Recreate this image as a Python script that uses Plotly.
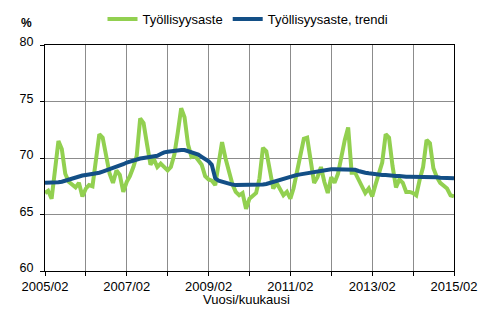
import pandas as pd
import plotly.graph_objects as go

# Monthly observations, 2005/02 - 2015/02
start_month = "2005-02-01"
n_months = 121

employment_rate = [
    66.9, 67.1, 66.4, 68.6, 71.5, 70.8, 68.6, 67.9, 67.7, 67.4, 67.8, 66.6,   # 2005/02-2006/01
    67.3, 67.6, 67.5, 69.6, 72.1, 71.8, 70.2, 68.6, 67.8, 68.9, 68.5, 67.0,   # 2006/02-2007/01
    67.9, 68.4, 69.2, 70.2, 73.5, 73.1, 71.2, 69.4, 69.9, 69.2, 69.5, 69.2,   # 2007/02-2008/01
    68.9, 69.2, 70.3, 72.2, 74.4, 73.6, 71.2, 70.1, 70.2, 69.8, 69.4, 68.4,   # 2008/02-2009/01
    68.1, 68.0, 67.6, 69.5, 71.4, 70.0, 68.8, 67.7, 67.0, 66.7, 66.9, 65.5,   # 2009/02-2010/01
    66.4, 66.6, 66.9, 68.2, 70.9, 70.6, 68.8, 67.3, 67.8, 67.2, 66.7, 67.0,   # 2010/02-2011/01
    66.4, 67.3, 68.8, 70.1, 71.7, 71.8, 69.5, 67.8, 68.3, 69.2, 67.9, 66.9,   # 2011/02-2012/01
    68.3, 67.8, 68.6, 70.3, 71.6, 72.7, 68.7, 68.7, 68.1, 67.6, 66.9, 67.3,   # 2012/02-2013/01
    66.6, 67.6, 68.6, 69.6, 72.1, 71.8, 69.3, 67.4, 68.1, 67.8, 67.0, 67.0,   # 2013/02-2014/01
    66.9, 66.7, 68.1, 69.2, 71.6, 71.3, 69.1, 68.3, 67.8, 67.5, 67.3, 66.7,   # 2014/02-2015/01
    66.6,                                                                     # 2015/02
]

employment_trend = [
    67.8, 67.8, 67.8, 67.8, 67.85, 67.9, 68.0, 68.1, 68.2, 68.3, 68.4, 68.45,
    68.5, 68.55, 68.55, 68.6, 68.7, 68.8, 68.9, 69.0, 69.1, 69.2, 69.3, 69.45,
    69.6, 69.7, 69.8, 69.85, 69.95, 70.0, 70.05, 70.1, 70.15, 70.2, 70.35, 70.5,
    70.55, 70.6, 70.6, 70.65, 70.7, 70.7, 70.6, 70.55, 70.45, 70.3, 70.1, 69.9,
    69.7, 69.4, 68.2, 68.0, 67.9, 67.8, 67.7, 67.65, 67.6, 67.6, 67.6, 67.6,
    67.6, 67.6, 67.6, 67.6, 67.65, 67.7, 67.8, 67.9, 68.0, 68.05, 68.15, 68.25,
    68.35, 68.4, 68.5, 68.55, 68.6, 68.7, 68.75, 68.8, 68.85, 68.9, 68.95, 69.0,
    69.0, 69.0, 69.0, 69.0, 69.0, 69.0, 69.0, 68.95, 68.85, 68.75, 68.7, 68.65,
    68.6, 68.55, 68.55, 68.5, 68.5, 68.45, 68.4, 68.4, 68.4, 68.35, 68.35, 68.35,
    68.35, 68.35, 68.3, 68.3, 68.3, 68.3, 68.3, 68.3, 68.25, 68.25, 68.2, 68.2,
    68.2,
]

series_names = ["Työllisyysaste", "Työllisyysaste, trendi"]
series_colors = ["#92D050", "#134F86"]

x_tick_labels = ["2005/02", "", "2007/02", "", "2009/02", "", "2011/02", "",
                 "2013/02", "", "2015/02"]
y_ticks = [60, 65, 70, 75, 80]

months = pd.date_range(start_month, periods=n_months, freq="MS")
year_ticks = pd.date_range(start_month, periods=len(x_tick_labels), freq="12MS")

FONT = "Liberation Sans, Arial, sans-serif"

W, H = 494, 323
ML, MR, MT, MB = 45, 40, 45, 52
plot_w = W - ML - MR
plot_h = H - MT - MB


def px_to_paper(px, py):
    """Convert a pixel position (from top-left) into paper coordinates."""
    return (px - ML) / plot_w, (H - MB - py) / plot_h


fig = go.Figure()
for name, values, color in zip(series_names, [employment_rate, employment_trend], series_colors):
    fig.add_trace(go.Scatter(
        x=months, y=values, mode="lines", name=name,
        line=dict(color=color, width=4),
    ))

legend_x, legend_y = px_to_paper(248, 19)
pct_x, pct_y = px_to_paper(26, 23)
title_x, title_y = px_to_paper(246, 299)

fig.update_layout(
    width=W, height=H,
    margin=dict(l=ML, r=MR, t=MT, b=MB, autoexpand=False),
    paper_bgcolor="white", plot_bgcolor="white",
    font=dict(family=FONT, size=13, color="black"),
    showlegend=True,
    legend=dict(
        orientation="h", x=legend_x, xanchor="center", y=legend_y, yanchor="middle",
        font=dict(family=FONT, size=13, color="black"),
        itemwidth=30, bgcolor="rgba(0,0,0,0)",
    ),
    xaxis=dict(
        type="date",
        range=[months[0], months[-1]],
        tickvals=list(year_ticks), ticktext=x_tick_labels,
        showgrid=True, gridcolor="#8C8C8C", gridwidth=1,
        showline=True, linecolor="black", linewidth=1, mirror=True,
        ticks="outside", ticklen=4, tickcolor="black",
        tickfont=dict(family=FONT, size=13),
        ticklabelstandoff=-1,
        zeroline=False, automargin=False,
    ),
    yaxis=dict(
        range=[60, 80], tickvals=y_ticks,
        showgrid=True, gridcolor="#8C8C8C", gridwidth=1,
        showline=True, linecolor="black", linewidth=1, mirror=True,
        ticks="outside", ticklen=4, tickcolor="black",
        tickfont=dict(family=FONT, size=12.5),
        ticklabelstandoff=4, ticklabelshift=-3,
        zeroline=False, automargin=False,
    ),
    annotations=[
        dict(text="<b>%</b>", x=pct_x, y=pct_y, xref="paper", yref="paper",
             xanchor="center", yanchor="middle",
             showarrow=False, font=dict(family=FONT, size=12)),
        dict(text="Vuosi/kuukausi", x=title_x, y=title_y, xref="paper", yref="paper",
             xanchor="center", yanchor="middle", showarrow=False,
             font=dict(family=FONT, size=13)),
    ],
)

fig.write_html("out.html")
